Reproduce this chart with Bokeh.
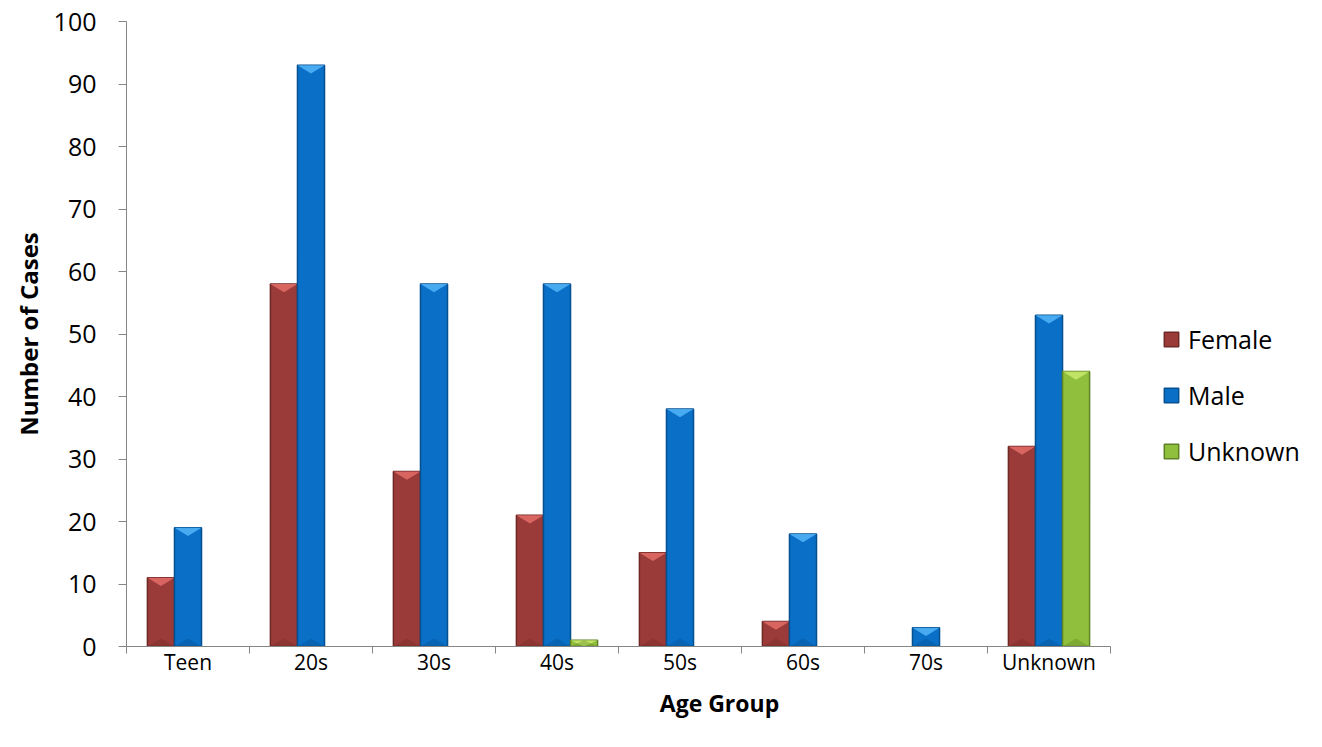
from bokeh.plotting import figure
from bokeh.models import FixedTicker, Legend, LegendItem, ColumnDataSource
from bokeh.embed import file_html
from bokeh.resources import INLINE

categories = ["Teen", "20s", "30s", "40s", "50s", "60s", "70s", "Unknown"]
female = [11, 58, 28, 21, 15, 4, 0, 32]
male = [19, 93, 58, 58, 38, 18, 3, 53]
unknown = [0, 0, 0, 1, 0, 0, 0, 44]
series_names = ["Female", "Male", "Unknown"]
series_values = [female, male, unknown]
y_ticks = list(range(0, 101, 10))

colors = ["#9b3b39", "#0a6fc6", "#8fbf3c"]
tops_c = ["#e06a66", "#4fb0f5", "#c4e86a"]
edges = ["#6e2826", "#07508f", "#5f8226"]

FONT = "Open Sans"
BAR_W = 0.22
OFFS = [-0.22, 0.0, 0.22]

W, H = 1314, 731
LEFT, TOP, RIGHT, BOTTOM = 126, 21, 2, 85
frame_w = W - LEFT - RIGHT
cat_px = 123.0
x_end = frame_w / cat_px

p = figure(width=W, height=H, output_backend="svg", toolbar_location=None,
           x_range=(0, x_end), y_range=(0, 100),
           min_border_left=LEFT, min_border_right=RIGHT, min_border_top=TOP, min_border_bottom=BOTTOM)
p.outline_line_color = None
p.xgrid.visible = False
p.ygrid.visible = False
p.background_fill_color = "white"

items = []
for name, vals, c, tc, ec, off in zip(series_names, series_values, colors, tops_c, edges, OFFS):
    xs = [i + 0.5 + off for i, v in enumerate(vals) if v > 0]
    ys = [v for v in vals if v > 0]
    src = ColumnDataSource(dict(x=xs, top=ys))
    r = p.vbar(x="x", top="top", width=BAR_W, bottom=0, source=src,
               fill_color=c, line_color=ec, line_width=1.5)
    d = 1.3
    tri_x = [[x - BAR_W / 2, x + BAR_W / 2, x] for x in xs]
    tri_y = [[t, t, max(t - d, 0)] for t in ys]
    p.patches(tri_x, tri_y, fill_color=tc, line_color=None, fill_alpha=0.9)
    btri_y = [[0, 0, min(d, t)] for t in ys]
    p.patches(tri_x, btri_y, fill_color=ec, line_color=None, fill_alpha=0.35)
    items.append(LegendItem(label=name, renderers=[r]))

legend = Legend(items=items, location=(1162 - LEFT, 178), orientation="vertical",
                spacing=22, padding=0, margin=0,
                glyph_width=18, glyph_height=18, label_height=22,
                label_text_font=FONT, label_text_font_size="25px",
                label_text_color="black", label_standoff=8,
                border_line_color=None, background_fill_alpha=0)
p.add_layout(legend, "center")

# y axis
p.yaxis.ticker = FixedTicker(ticks=y_ticks)
p.yaxis.axis_line_color = "#868686"
p.yaxis.major_tick_line_color = "#868686"
p.yaxis.major_tick_out = 8
p.yaxis.major_tick_in = 0
p.yaxis.minor_tick_line_color = None
p.yaxis.major_label_text_font = FONT
p.yaxis.major_label_text_font_size = "25px"
p.yaxis.major_label_text_color = "black"
p.yaxis.major_label_standoff = 22
p.yaxis.axis_label = "Number of Cases"
p.yaxis.axis_label_text_font = FONT
p.yaxis.axis_label_text_font_style = "bold"
p.yaxis.axis_label_text_font_size = "24px"
p.yaxis.axis_label_text_color = "black"
p.yaxis.axis_label_standoff = 6

# x axis: labels at centers, ticks at category boundaries
centers = [i + 0.5 for i in range(len(categories))]
bounds = list(range(len(categories) + 1))
p.xaxis.ticker = FixedTicker(ticks=centers, minor_ticks=bounds)
p.xaxis.bounds = (0, len(categories))
p.xaxis.major_label_overrides = {c: lab for c, lab in zip(centers, categories)}
p.xaxis.axis_line_color = "#868686"
p.xaxis.major_tick_line_color = None
p.xaxis.major_tick_out = 0
p.xaxis.major_tick_in = 0
p.xaxis.minor_tick_line_color = "#868686"
p.xaxis.minor_tick_out = 7
p.xaxis.minor_tick_in = 0
p.xaxis.major_label_text_font = FONT
p.xaxis.major_label_text_font_size = "21px"
p.xaxis.major_label_text_color = "black"
p.xaxis.major_label_standoff = -6
p.xaxis.axis_label = "Age Group"
p.xaxis.axis_label_text_font = FONT
p.xaxis.axis_label_text_font_style = "bold"
p.xaxis.axis_label_text_font_size = "23px"
p.xaxis.axis_label_text_color = "black"
p.xaxis.axis_label_standoff = 8

open("out.html", "w").write(file_html(p, INLINE))
